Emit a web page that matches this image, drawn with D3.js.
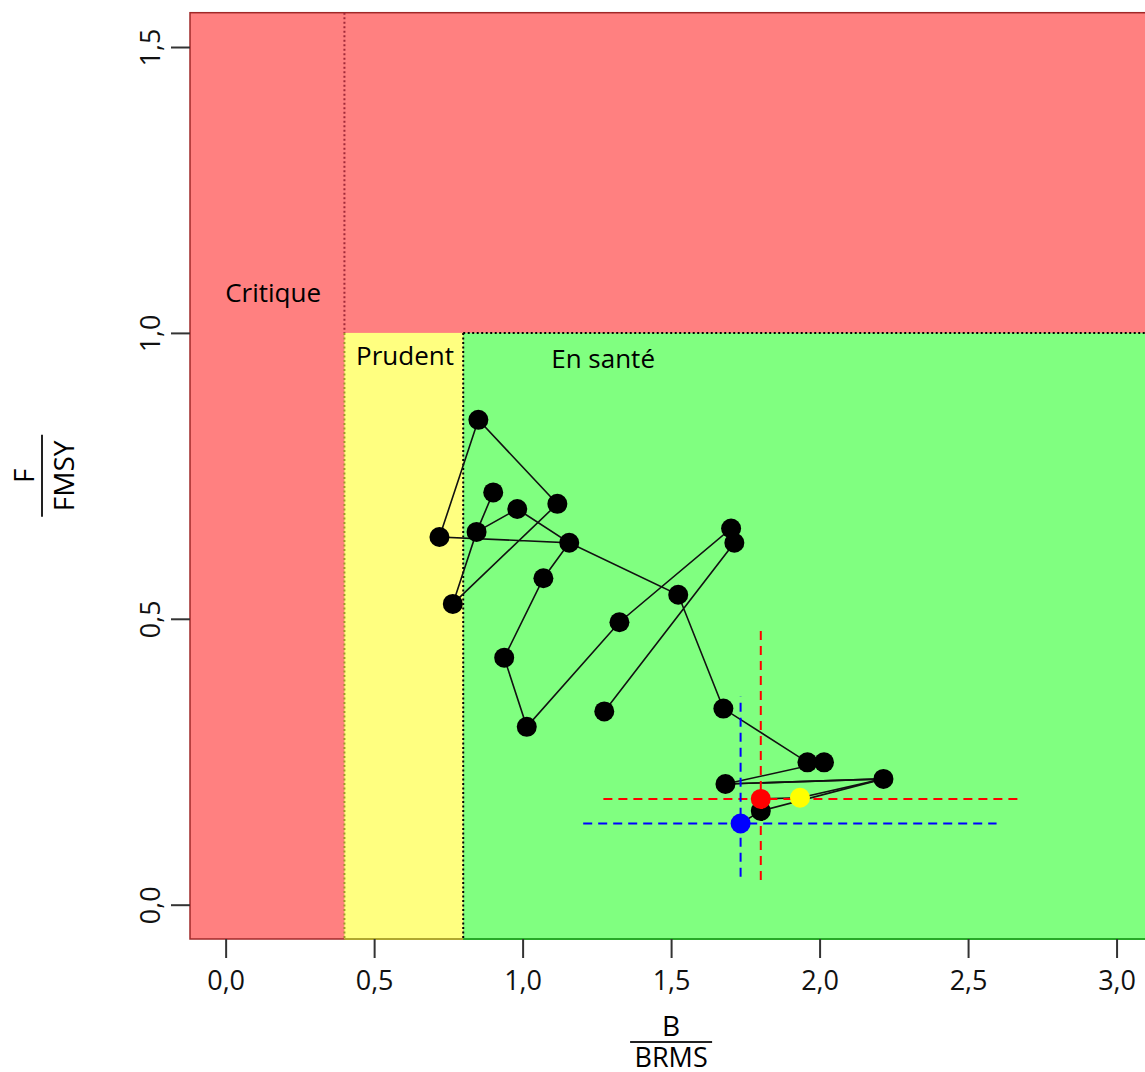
<!DOCTYPE html>
<html>
<head>
<meta charset="utf-8">
<script src="https://cdn.jsdelivr.net/npm/d3@7"></script>
<style>
	body { margin: 0; background: #fff; }
	svg { display: block; font-family: 'Open Sans', sans-serif; }
</style>
</head>
<body>
<div class="plot"></div>
<script>
// Trajectoire B/BRMS et F/FMSY
const ptsB = [0.851, 0.901, 0.982, 1.117, 0.720, 0.845, 1.157, 0.765, 1.070, 1.702, 1.713,
	1.524, 1.326, 0.938, 1.014, 1.275, 1.676, 1.959, 2.015, 1.683, 2.215, 1.802];
const ptsF = [0.848, 0.721, 0.692, 0.701, 0.643, 0.652, 0.633, 0.526, 0.571, 0.658, 0.633,
	0.542, 0.494, 0.432, 0.311, 0.338, 0.343, 0.249, 0.249, 0.211, 0.220, 0.164];

// Points en couleur (estimations finales) : rouge, jaune, bleu
const couleurs = ['#ff0000', '#ffff00', '#0000ff'];
const finB = [1.802, 1.934, 1.734];
const finF = [0.185, 0.187, 0.142];
// intervalles de confiance (rouge, bleu)
const icCouleurs = ['#ff0000', '#0000ff'];
const icCentreB = [1.802, 1.734];
const icCentreF = [0.185, 0.142];
const icB = [[1.272, 2.668], [1.204, 2.596]];
const icF = [[0.043, 0.486], [0.049, 0.364]];

// Ordre des segments (indices des points ; 'R','J','B' = points colorés)
const trajets = [
	[1, 5, 7, 3, 0, 4, 6, 2, 5],
	[15, 10, 9, 12, 14, 13, 8, 6, 11, 16, 17, 18, 19, 20, 'J', 'R'],
	[19, 20, 21, 'B']
];

// Zones et seuils
const seuilCritique = 0.4;
const seuilSante = 0.8;
const seuilF = 1.0;
const xTicks = [0, 0.5, 1, 1.5, 2, 2.5, 3];
const yTicks = [0, 0.5, 1, 1.5];
const zones = ['Critique', 'Prudent', 'En santé'];

const W = 1145, H = 1072;
const svg = d3.select('.plot').append('svg')
	.attr('width', W)
	.attr('height', H);

const x = d3.scaleLinear().domain([-0.12, 3.12]).range([190, 1152.2]);
const y = d3.scaleLinear().domain([-0.06, 1.56]).range([939, 12.7]);
const [x0, x1] = x.range();
const [y0, y1] = y.range();

const fr = d3.formatLocale({decimal: ',', thousands: ' ', grouping: [3], currency: ['', '€']});
const fmt = fr.format('.1f');

// Fonds colorés
svg.append('rect')
	.attr('x', x0).attr('y', y1)
	.attr('width', x1 - x0).attr('height', y0 - y1)
	.attr('fill', '#ff8080')
	.attr('stroke', '#a02828').attr('stroke-width', 1.5);
svg.append('rect')
	.attr('x', x(seuilCritique)).attr('y', y(seuilF))
	.attr('width', x(seuilSante) - x(seuilCritique)).attr('height', y0 - y(seuilF))
	.attr('fill', '#ffff80');
svg.append('rect')
	.attr('x', x(seuilSante)).attr('y', y(seuilF))
	.attr('width', x1 - x(seuilSante)).attr('height', y0 - y(seuilF))
	.attr('fill', '#80ff80');
// bordures du bas
svg.append('line')
	.attr('x1', x(seuilCritique)).attr('x2', x(seuilSante)).attr('y1', y0).attr('y2', y0)
	.attr('stroke', '#b0a830').attr('stroke-width', 2);
svg.append('line')
	.attr('x1', x(seuilSante)).attr('x2', x1).attr('y1', y0).attr('y2', y0)
	.attr('stroke', '#28a828').attr('stroke-width', 2);

// Lignes pointillées des seuils
const pointille = (xa, ya, xb, yb, col) => svg.append('line')
	.attr('x1', xa).attr('y1', ya).attr('x2', xb).attr('y2', yb)
	.attr('stroke', col).attr('stroke-width', 2)
	.attr('stroke-dasharray', '2,2.5');
pointille(x(seuilCritique), y1, x(seuilCritique), y(seuilF), '#a02838');
pointille(x(seuilCritique), y(seuilF), x(seuilCritique), y0, '#a09828');
pointille(x(seuilSante), y(seuilF), x(seuilSante), y0, '#000');
pointille(x(seuilSante), y(seuilF), x1, y(seuilF), '#000');

// Étiquettes des zones
const zoneX = [0.16, 0.604, 1.271];
const zoneY = [1.054, 0.944, 0.938];
svg.selectAll('.zone').data(zones).enter()
	.append('text')
	.attr('class', 'zone')
	.attr('x', (d, i) => x(zoneX[i]))
	.attr('y', (d, i) => y(zoneY[i]))
	.attr('text-anchor', 'middle')
	.attr('font-size', 26)
	.attr('fill', '#000')
	.text(d => d);

// Position d'un point de trajet
const posB = k => typeof k === 'number' ? ptsB[k] : finB['RJB'.indexOf(k)];
const posF = k => typeof k === 'number' ? ptsF[k] : finF['RJB'.indexOf(k)];

const ligne = d3.line()
	.x(k => x(posB(k)))
	.y(k => y(posF(k)));

svg.selectAll('.trajet').data(trajets).enter()
	.append('path')
	.attr('class', 'trajet')
	.attr('d', ligne)
	.attr('fill', 'none')
	.attr('stroke', '#111')
	.attr('stroke-width', 1.6);

// Intervalles de confiance
icCouleurs.forEach((col, i) => {
	svg.append('line')
		.attr('x1', x(icB[i][0])).attr('x2', x(icB[i][1]))
		.attr('y1', y(icCentreF[i])).attr('y2', y(icCentreF[i]))
		.attr('stroke', col).attr('stroke-width', 2)
		.attr('stroke-dasharray', '9,6');
	svg.append('line')
		.attr('x1', x(icCentreB[i])).attr('x2', x(icCentreB[i]))
		.attr('y1', y(icF[i][0])).attr('y2', y(icF[i][1]))
		.attr('stroke', col).attr('stroke-width', 2)
		.attr('stroke-dasharray', '9,6');
});

// Points noirs
svg.selectAll('.pt').data(ptsB).enter()
	.append('circle')
	.attr('class', 'pt')
	.attr('cx', d => x(d))
	.attr('cy', (d, i) => y(ptsF[i]))
	.attr('r', 10)
	.attr('fill', '#000');

// Points colorés
svg.selectAll('.fin').data(finB).enter()
	.append('circle')
	.attr('class', 'fin')
	.attr('cx', d => x(d))
	.attr('cy', (d, i) => y(finF[i]))
	.attr('r', 10)
	.attr('fill', (d, i) => couleurs[i]);

// Axes
const xAxis = svg.append('g')
	.attr('transform', `translate(0,${y0})`)
	.call(d3.axisBottom(x).tickValues(xTicks).tickFormat(fmt).tickSize(19).tickPadding(12.5));
const yAxis = svg.append('g')
	.attr('transform', `translate(${x0},0)`)
	.call(d3.axisLeft(y).tickValues(yTicks).tickFormat(fmt).tickSize(19));
[xAxis, yAxis].forEach(a => {
	a.select('.domain').remove();
	a.selectAll('line').attr('stroke', '#333').attr('stroke-width', 2);
	a.selectAll('text').attr('font-size', 27).attr('fill', '#111')
		.style('font-family', "'Open Sans', sans-serif");
});
yAxis.selectAll('text')
	.attr('x', 0).attr('dy', 0)
	.attr('text-anchor', 'middle')
	.attr('transform', 'translate(-30,0) rotate(-90)');

// Titres en fraction
const xt = svg.append('g').attr('transform', `translate(${(x0 + x1) / 2},1042)`);
xt.append('text').attr('y', -6).attr('text-anchor', 'middle').attr('font-size', 28).text('B');
xt.append('line').attr('x1', -41).attr('x2', 41).attr('stroke', '#222').attr('stroke-width', 2);
xt.append('text').attr('y', 25).attr('text-anchor', 'middle').attr('font-size', 27).text('BRMS');

const yt = svg.append('g').attr('transform', `translate(42,${(y0 + y1) / 2}) rotate(-90)`);
yt.append('text').attr('y', -8).attr('text-anchor', 'middle').attr('font-size', 28).text('F');
yt.append('line').attr('x1', -41).attr('x2', 41).attr('stroke', '#222').attr('stroke-width', 2);
yt.append('text').attr('y', 32).attr('text-anchor', 'middle').attr('font-size', 28).text('FMSY');
</script>
</body>
</html>
